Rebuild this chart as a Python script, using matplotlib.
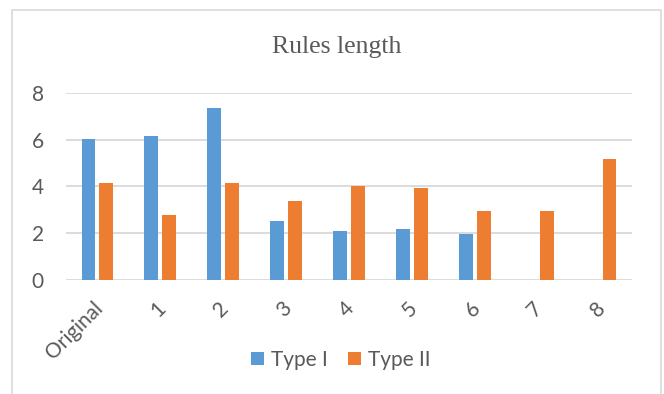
import numpy as np
import matplotlib
matplotlib.use('Agg')
from matplotlib import pyplot as plt
from matplotlib.patches import Rectangle
import matplotlib.transforms as mtransforms

categories = ['Original', '1', '2', '3', '4', '5', '6', '7', '8']
type1 = [6.04, 6.14, 7.36, 2.51, 2.08, 2.18, 1.98, 0, 0]
type2 = [4.13, 2.76, 4.13, 3.36, 4.0, 3.94, 2.94, 2.96, 5.16]
series_names = ['Type I', 'Type II']

blue = '#5B9BD5'
orange = '#ED7D31'
grey = '#595959'
grid = '#D9D9D9'

plt.rcParams['font.family'] = ['Lato', 'DejaVu Sans']

fig = plt.figure(figsize=(6.64, 3.94), dpi=100)
ax = fig.add_axes([66 / 664, 1 - 280 / 394, (632 - 66) / 664, (280 - 92.7) / 394])

x = np.arange(len(categories))
w = 0.22
off = 0.142
b1 = ax.bar(x - off, type1, w, color=blue, label=series_names[0], zorder=3)
b2 = ax.bar(x + off, type2, w, color=orange, label=series_names[1], zorder=3)

ax.set_xlim(-0.5, len(categories) - 0.5)
ax.set_ylim(0, 8)
ax.set_yticks([0, 2, 4, 6, 8])
ax.yaxis.grid(True, color=grid, linewidth=1.3, zorder=0)
ax.set_axisbelow(True)
for s in ax.spines.values():
    s.set_visible(False)

ax.tick_params(axis='y', length=0, pad=16, labelsize=15, labelcolor=grey)
ax.tick_params(axis='x', length=0, pad=18, labelsize=15, labelcolor=grey)
ax.set_xticks(x)
ax.set_xticklabels(categories, rotation=45, ha='right', va='center',
                   rotation_mode='anchor')
shift = mtransforms.ScaledTranslation(2 / 100, 0, fig.dpi_scale_trans)
for lab in ax.get_xticklabels():
    lab.set_transform(lab.get_transform() + shift)

fig.text(337 / 664, 1 - 53 / 394, 'Rules length', ha='center', va='baseline',
         fontsize=18.5, color=grey, family=['Liberation Serif'])

leg = fig.legend(handles=[b1, b2], loc='center', bbox_to_anchor=(341 / 664, 1 - 360 / 394),
                 ncol=2, frameon=False, fontsize=15, labelcolor=grey,
                 handlelength=0.62, handleheight=0.62, handletextpad=0.34,
                 columnspacing=0.95, borderpad=0)

fig.patches.append(Rectangle((12 / 664, -0.05), (661 - 12) / 664, 1.05 - 10 / 394,
                             transform=fig.transFigure, fill=False,
                             edgecolor=grid, linewidth=1.2))

fig.savefig('out.png', dpi=100)
